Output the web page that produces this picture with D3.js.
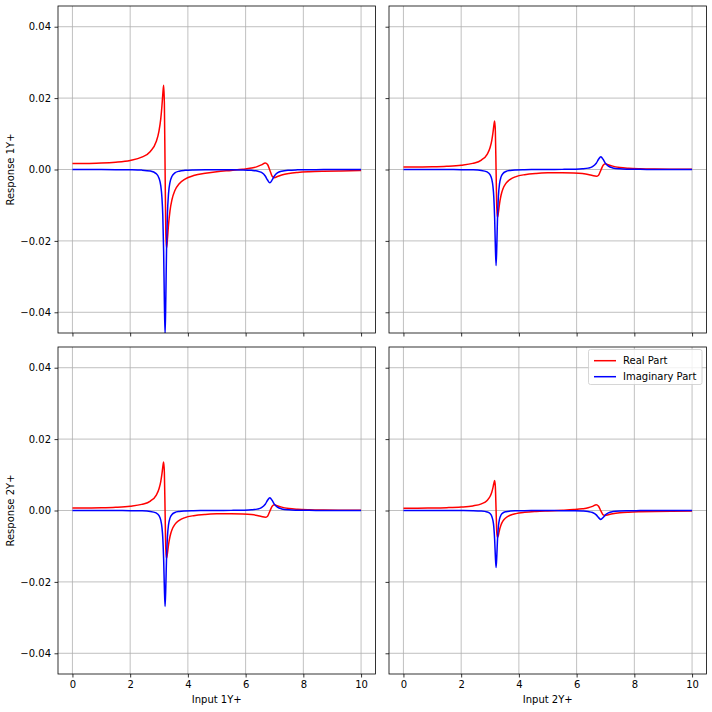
<!DOCTYPE html>
<html><head><meta charset="utf-8">
<script src="https://cdn.jsdelivr.net/npm/d3@7"></script>
<style>body{margin:0;background:#fff}svg{display:block}text{font-family:"DejaVu Sans",sans-serif}</style>
</head><body>
<script>
const X = [0,0.5,1.0,1.5,2.0,2.4,2.7,2.9,3.0,3.06,3.10,3.13,3.16,3.185,3.21,3.235,3.26,3.29,3.33,3.38,3.45,3.55,3.7,3.9,4.2,4.6,5.0,5.5,5.9,6.2,6.4,6.55,6.68,6.76,6.84,6.92,7.0,7.1,7.25,7.5,7.8,8.2,8.7,9.3,10.0];

const r11Real = [0.00165,0.0017,0.0018,0.00205,0.00255,0.00345,0.00505,0.00775,0.01085,0.0142,0.0177,0.0210,0.0236,0.0186,0.0002,-0.0176,-0.0220,-0.0196,-0.0154,-0.0116,-0.0084,-0.0059,-0.0040,-0.0027,-0.0017,-0.00102,-0.00062,-0.00025,0.00005,0.0004,0.0008,0.0013,0.0018,0.0014,-0.0002,-0.0019,-0.0023,-0.00195,-0.00152,-0.0011,-0.00083,-0.00063,-0.00049,-0.00039,-0.00031];
const r11Imag = [0,-0.000008,-0.000018,-0.000035,-0.000075,-0.00017,-0.00043,-0.00115,-0.00243,-0.00453,-0.00776,-0.01274,-0.0229,-0.0368,-0.0462,-0.0363,-0.02253,-0.01266,-0.00668,-0.00359,-0.00188,-0.00096,-0.00047,-0.00024,-0.00012,-0.00007,-0.00006,-0.00007,-0.00011,-0.00022,-0.00042,-0.00084,-0.00182,-0.00295,-0.0037,-0.00291,-0.00178,-0.00097,-0.00047,-0.0002,-0.0001,-0.00005,-0.00003,-0.00002,-0.00001];

const r12Real = [0.00068,0.0007,0.00076,0.0009,0.00119,0.00171,0.00265,0.00426,0.00609,0.0081,0.01017,0.01213,0.0136,0.01067,-0.0002,-0.01087,-0.0134,-0.01208,-0.00954,-0.00728,-0.00538,-0.0039,-0.00275,-0.00199,-0.00144,-0.00109,-0.00094,-0.00089,-0.00097,-0.00115,-0.0014,-0.0017,-0.0019,-0.0016,-0.0002,0.0012,0.0016,0.00132,0.00094,0.00057,0.00036,0.00022,0.00013,0.00008,0.00005];
const r12Imag = [0,-0.000004,-0.000009,-0.000018,-0.000041,-0.000097,-0.00025,-0.00068,-0.00144,-0.0027,-0.00463,-0.00761,-0.01356,-0.02166,-0.0269,-0.02139,-0.01334,-0.0075,-0.00395,-0.00213,-0.00111,-0.00056,-0.00027,-0.00013,-0.00006,-0.00002,0.000005,0.000035,0.00009,0.00019,0.00039,0.0008,0.00175,0.00286,0.0036,0.00282,0.00172,0.00093,0.00044,0.00018,0.00009,0.00004,0.00002,0.00001,0.00001];

const r22Real = [0.00065,0.00066,0.0007,0.00079,0.00097,0.00129,0.00186,0.00282,0.00391,0.0051,0.00634,0.0075,0.0084,0.00661,0.00014,-0.0062,-0.0075,-0.00691,-0.0054,-0.00406,-0.00292,-0.00203,-0.00134,-0.00087,-0.00052,-0.00027,-0.00011,0.00006,0.00025,0.00048,0.00075,0.00115,0.0016,0.0012,-0.0001,-0.0012,-0.0014,-0.0012,-0.00092,-0.00064,-0.00047,-0.00035,-0.00026,-0.0002,-0.00016];
const r22Imag = [0,-0.000003,-0.000007,-0.000013,-0.000028,-0.000062,-0.000155,-0.00041,-0.00086,-0.00161,-0.00276,-0.00453,-0.00808,-0.0129,-0.0160,-0.01273,-0.00795,-0.00447,-0.00236,-0.00127,-0.00067,-0.00034,-0.00017,-0.00009,-0.00005,-0.00003,-0.00003,-0.00004,-0.00007,-0.00014,-0.00028,-0.00056,-0.00122,-0.00199,-0.0025,-0.00196,-0.0012,-0.00065,-0.00031,-0.00013,-0.00007,-0.00003,-0.00002,-0.00001,-0.00001];

const xTicks = [0,2,4,6,8,10];
const yTicks = [-0.04,-0.02,0.00,0.02,0.04];
const rowLabels = ["Response 1Y+","Response 2Y+"];
const colLabels = ["Input 1Y+","Input 2Y+"];
const seriesNames = ["Real Part","Imaginary Part"];
const seriesColors = ["red","blue"];

const panels = [
  {row:0,col:0,re:r11Real,im:r11Imag},
  {row:0,col:1,re:r12Real,im:r12Imag},
  {row:1,col:0,re:r12Real,im:r12Imag},
  {row:1,col:1,re:r22Real,im:r22Imag}
];

const W=712,H=712;
const colX=[[58,375.5],[389,706.5]];
const rowY=[[6,333],[347,674]];

const svg=d3.select("body").append("svg").attr("width",W).attr("height",H);
const fmt = v => (v<0?"\u2212":"") + Math.abs(v).toFixed(2);

panels.forEach((p,i)=>{
  const [x0,x1]=colX[p.col],[y0,y1]=rowY[p.row];
  const x=d3.scaleLinear().domain([-0.5,10.5]).range([x0,x1]);
  const y=d3.scaleLinear().domain([-0.0458,0.0458]).range([y1,y0]);
  const g=svg.append("g");
  const cid="clip"+i;
  g.append("clipPath").attr("id",cid).append("rect").attr("x",x0).attr("y",y0).attr("width",x1-x0).attr("height",y1-y0);
  g.selectAll(".gx").data(xTicks).join("line").attr("x1",d=>x(d)).attr("x2",d=>x(d)).attr("y1",y0).attr("y2",y1).attr("stroke","#b0b0b0").attr("stroke-width",0.8);
  g.selectAll(".gy").data(yTicks).join("line").attr("y1",d=>y(d)).attr("y2",d=>y(d)).attr("x1",x0).attr("x2",x1).attr("stroke","#b0b0b0").attr("stroke-width",0.8);
  [p.re,p.im].forEach((vals,k)=>{
    const line=d3.line().x((d,j)=>x(X[j])).y(d=>y(d)).curve(d3.curveMonotoneX);
    g.append("path").attr("d",line(vals)).attr("fill","none").attr("stroke",seriesColors[k]).attr("stroke-width",1.5).attr("clip-path",`url(#${cid})`);
  });
  const ax=d3.axisBottom(x).tickValues(xTicks).tickSize(3.5).tickPadding(3.5).tickFormat(p.row===1?d3.format("d"):()=> "");
  const ay=d3.axisLeft(y).tickValues(yTicks).tickSize(3.5).tickPadding(3.5).tickFormat(p.col===0?fmt:()=> "");
  const gx=g.append("g").attr("transform",`translate(0,${y1})`).call(ax);
  const gy=g.append("g").attr("transform",`translate(${x0},0)`).call(ay);
  [gx,gy].forEach(a=>{a.select(".domain").remove();a.selectAll("line").attr("stroke","#000").attr("stroke-width",0.8);a.selectAll("text").attr("font-size",10).attr("fill","#000").attr("font-family","DejaVu Sans");});
  g.append("rect").attr("x",x0).attr("y",y0).attr("width",x1-x0).attr("height",y1-y0).attr("fill","none").attr("stroke","#000").attr("stroke-width",0.8);
  if(p.col===0){
    g.append("text").attr("transform",`translate(14,${(y0+y1)/2}) rotate(-90)`).attr("text-anchor","middle").attr("font-size",10).text(rowLabels[p.row]);
  }
  if(p.row===1){
    g.append("text").attr("x",(x0+x1)/2).attr("y",703).attr("text-anchor","middle").attr("font-size",10).text(colLabels[p.col]);
  }
  if(p.row===1&&p.col===1){
    const lg=g.append("g");
    lg.append("rect").attr("x",588.5).attr("y",349.5).attr("width",113.5).attr("height",35).attr("rx",2).attr("fill","#fff").attr("fill-opacity",0.8).attr("stroke","#cccccc").attr("stroke-width",0.8);
    seriesNames.forEach((n,k)=>{
      const cy=360.7+k*16;
      lg.append("line").attr("x1",594).attr("x2",616).attr("y1",cy).attr("y2",cy).attr("stroke",seriesColors[k]).attr("stroke-width",1.5);
      lg.append("text").attr("x",623).attr("y",cy+3.6).attr("font-size",10).text(n);
    });
  }
});
</script>
</body></html>
